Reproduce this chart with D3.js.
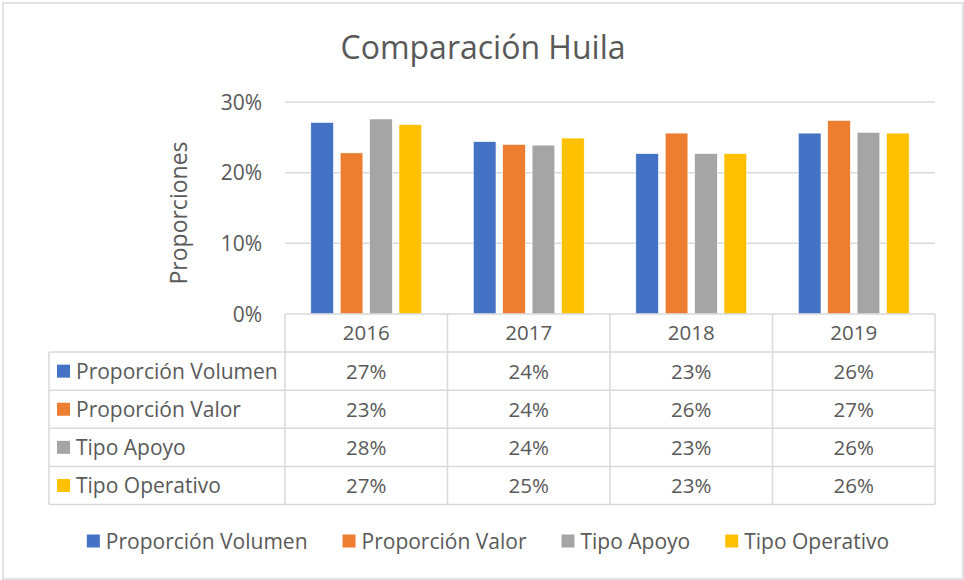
<!DOCTYPE html>
<html>
<head>
<meta charset="utf-8">
<script src="https://cdn.jsdelivr.net/npm/d3@7"></script>
<style>
  body { margin: 0; background: #fff; }
  svg text { font-family: "Open Sans", sans-serif; fill: #595959; }
</style>
</head>
<body>
<div id="container"><svg></svg></div>
<script>
let width = 964;
let height = 580;

// datos
let years = ["2016", "2017", "2018", "2019"];
let seriesNames = ["Proporción Volumen", "Proporción Valor", "Tipo Apoyo", "Tipo Operativo"];
let volumen = [0.271, 0.244, 0.227, 0.256];
let valor = [0.228, 0.240, 0.256, 0.274];
let apoyo = [0.276, 0.239, 0.227, 0.257];
let operativo = [0.268, 0.249, 0.227, 0.256];
let yTicks = [0, 0.1, 0.2, 0.3];
let colors = ["#4472C4", "#ED7D31", "#A5A5A5", "#FFC000"];

let seriesValues = [volumen, valor, apoyo, operativo];
let series = seriesNames.map((name, i) => ({ name: name, color: colors[i], values: seriesValues[i] }));

let svg = d3.select('#container').select('svg')
    .attr('width', width)
    .attr('height', height);

// marco del grafico
svg.append("rect")
    .attr("x", 3).attr("y", 3)
    .attr("width", 960).attr("height", 576)
    .attr("fill", "#fff")
    .attr("stroke", "#d9d9d9")
    .attr("stroke-width", 1.5);

// titulo
svg.append("text")
    .attr("x", 483).attr("y", 59)
    .attr("text-anchor", "middle")
    .style("font-size", "32px")
    .text("Comparación Huila");

let plotLeft = 285, plotRight = 935, plotTop = 102, plotBottom = 314;

let x0 = d3.scaleBand().domain(years).range([plotLeft, plotRight]).padding(0);
let x1 = d3.scaleBand().domain(seriesNames).range([0, x0.bandwidth()])
    .paddingInner(0.228).paddingOuter(0.877);
let y = d3.scaleLinear().domain([0, 0.3]).range([plotBottom, plotTop]);

// lineas de cuadricula
svg.append("g")
    .selectAll("line")
    .data(yTicks.filter(d => d > 0))
    .join("line")
    .attr("x1", plotLeft).attr("x2", plotRight)
    .attr("y1", d => y(d)).attr("y2", d => y(d))
    .attr("stroke", "#d9d9d9")
    .attr("stroke-width", 1.5);

// etiquetas eje y
svg.append("g")
    .selectAll("text")
    .data(yTicks)
    .join("text")
    .attr("x", 262)
    .attr("y", d => y(d))
    .attr("dy", "0.36em")
    .attr("text-anchor", "end")
    .style("font-size", "21px")
    .text(d => d3.format(".0%")(d));

// titulo eje y
svg.append("text")
    .attr("transform", "translate(187," + 213 + ") rotate(-90)")
    .attr("text-anchor", "middle")
    .style("font-size", "23px")
    .text("Proporciones");

// barras
svg.append("g")
    .selectAll("g")
    .data(series)
    .join("g")
    .attr("fill", d => d.color)
    .selectAll("rect")
    .data(d => d.values.map((v, i) => ({ name: d.name, year: years[i], value: v })))
    .join("rect")
    .attr("x", d => x0(d.year) + x1(d.name))
    .attr("width", x1.bandwidth())
    .attr("y", d => y(d.value))
    .attr("height", d => y(0) - y(d.value))
    .attr("stroke", "#fff")
    .attr("stroke-width", 0.6);

// tabla de datos
let tableLeft = 49;
let rowH = 38.1;
let rows = d3.scaleBand().domain(seriesNames).range([plotBottom + rowH, plotBottom + rowH * 5]);
let tableBottom = plotBottom + rowH * 5;
let grid = svg.append("g").attr("stroke", "#d9d9d9").attr("stroke-width", 1.5);

// lineas horizontales
grid.append("line")
    .attr("x1", plotLeft).attr("x2", plotRight)
    .attr("y1", plotBottom).attr("y2", plotBottom);
grid.selectAll(".hrow")
    .data(seriesNames.concat(["fin"]))
    .join("line")
    .attr("x1", tableLeft).attr("x2", plotRight)
    .attr("y1", (d, i) => plotBottom + rowH * (i + 1))
    .attr("y2", (d, i) => plotBottom + rowH * (i + 1));

// lineas verticales
grid.selectAll(".vcol")
    .data(years.concat(["fin"]))
    .join("line")
    .attr("x1", (d, i) => plotLeft + x0.step() * i)
    .attr("x2", (d, i) => plotLeft + x0.step() * i)
    .attr("y1", plotBottom).attr("y2", tableBottom);
grid.append("line")
    .attr("x1", tableLeft).attr("x2", tableLeft)
    .attr("y1", plotBottom + rowH).attr("y2", tableBottom);

// encabezado de anos
svg.append("g")
    .selectAll("text")
    .data(years)
    .join("text")
    .attr("x", d => x0(d) + x0.bandwidth() / 2)
    .attr("y", plotBottom + rowH / 2)
    .attr("dy", "0.36em")
    .attr("text-anchor", "middle")
    .style("font-size", "20.5px")
    .text(d => d);

// filas de la tabla
let row = svg.append("g")
    .selectAll("g")
    .data(series)
    .join("g")
    .attr("transform", d => "translate(0," + (rows(d.name) + rows.bandwidth() / 2) + ")");

row.append("rect")
    .attr("x", 57).attr("y", -6.5)
    .attr("width", 13).attr("height", 13)
    .attr("fill", d => d.color);

row.append("text")
    .attr("x", 76)
    .attr("dy", "0.36em")
    .style("font-size", "21px")
    .text(d => d.name);

row.selectAll(".val")
    .data(d => d.values)
    .join("text")
    .attr("x", (d, i) => x0(years[i]) + x0.bandwidth() / 2)
    .attr("dy", "0.36em")
    .attr("text-anchor", "middle")
    .style("font-size", "20.5px")
    .text(d => d3.format(".0%")(d));

// leyenda, centrada segun el ancho de los textos
let legend = svg.append("g")
    .selectAll("g")
    .data(series)
    .join("g");

legend.append("rect")
    .attr("x", 0).attr("y", -6.5)
    .attr("width", 13).attr("height", 13)
    .attr("fill", d => d.color);

legend.append("text")
    .attr("x", 19)
    .attr("dy", "0.36em")
    .style("font-size", "21px")
    .text(d => d.name);

let widths = [];
legend.select("text").each(function () { widths.push(19 + this.getComputedTextLength()); });
let gap = 35;
let total = d3.sum(widths) + gap * (widths.length - 1);
let lx = 488 - total / 2;
let offsets = widths.map(w => { let o = lx; lx += w + gap; return o; });
legend.attr("transform", (d, i) => "translate(" + offsets[i] + ",541)");
</script>
</body>
</html>
